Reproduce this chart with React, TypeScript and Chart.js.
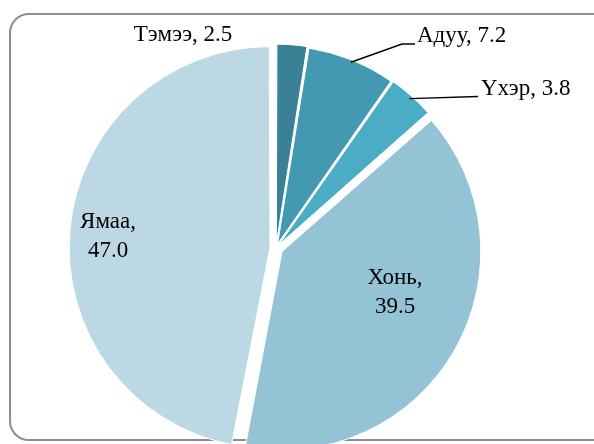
import React, { useEffect, useRef } from "react";
import { Chart, registerables } from "chart.js";

Chart.register(...registerables);

const categories = ["Тэмээ", "Адуу", "Үхэр", "Хонь", "Ямаа"];
const shares = [2.5, 7.2, 3.8, 39.5, 47.0];
const sliceColors = ["#3A8196", "#4399B1", "#4BACC6", "#93C3D5", "#BCD8E4"];
// explosion per slice (Chart.js moves an arc by offset/4 px)
const sliceOffsets = [17, 17, 17, 28, 24];

// label layout: [lines, x, y, align]
const labelLayout: { lines: string[]; x: number; y: number; align: CanvasTextAlign }[] = [
  { lines: [`${categories[0]}, ${shares[0].toFixed(1)}`], x: 183, y: 35, align: "center" },
  { lines: [`${categories[1]}, ${shares[1].toFixed(1)}`], x: 417, y: 36, align: "left" },
  { lines: [`${categories[2]}, ${shares[2].toFixed(1)}`], x: 481, y: 89, align: "left" },
  { lines: [`${categories[3]},`, shares[3].toFixed(1)], x: 395, y: 278, align: "center" },
  { lines: [`${categories[4]},`, shares[4].toFixed(1)], x: 108, y: 222, align: "center" },
];

const labelPlugin = {
  id: "pieLabels",
  afterDatasetsDraw(chart: any) {
    const ctx = chart.ctx as CanvasRenderingContext2D;
    const meta = chart.getDatasetMeta(0);
    ctx.save();
    // leader lines for Адуу and Үхэр
    const leader = (i: number, pts: [number, number][]) => {
      const arc = meta.data[i] as any;
      const mid = (arc.startAngle + arc.endAngle) / 2;
      const t = sliceOffsets[i] / 4;
      const r = arc.outerRadius + t;
      const sx = arc.x + Math.cos(mid) * r;
      const sy = arc.y + Math.sin(mid) * r;
      ctx.beginPath();
      ctx.moveTo(sx, sy);
      pts.forEach(([x, y]) => ctx.lineTo(x, y));
      ctx.strokeStyle = "#000";
      ctx.lineWidth = 1.5;
      ctx.stroke();
    };
    leader(1, [[402, 44], [415, 44]]);
    leader(2, [[478, 96.5]]);

    ctx.fillStyle = "#000";
    ctx.font = '23px "Liberation Serif", "Times New Roman", serif';
    ctx.textBaseline = "middle";
    labelLayout.forEach((l) => {
      ctx.textAlign = l.align;
      l.lines.forEach((s, k) => ctx.fillText(s, l.x, l.y + k * 29));
    });
    ctx.restore();
  },
};

export default function App() {
  const ref = useRef<HTMLCanvasElement>(null);
  useEffect(() => {
    if (!ref.current) return;
    const chart = new Chart(ref.current, {
      type: "pie",
      data: {
        labels: categories,
        datasets: [
          {
            data: shares,
            backgroundColor: sliceColors,
            borderColor: "#ffffff",
            borderWidth: 1,
            offset: sliceOffsets,
            hoverOffset: 0,
            radius: 196,
          } as any,
        ],
      },
      options: {
        animation: false,
        responsive: false,
        maintainAspectRatio: false,
        devicePixelRatio: 1,
        layout: { padding: { left: 72, right: 114, top: 44, bottom: 18 } },
        plugins: { legend: { display: false }, tooltip: { enabled: false } },
        events: [],
      },
      plugins: [labelPlugin],
    });
    return () => chart.destroy();
  }, []);
  return (
    <div
      style={{
        position: "fixed",
        left: 0,
        top: 0,
        width: 594,
        height: 444,
        overflow: "hidden",
        background: "#fff",
      }}
    >
      <div
        style={{
          position: "absolute",
          left: 9,
          top: 13,
          width: 620,
          height: 428,
          border: "2px solid #8e8e8e",
          borderRadius: 20,
          boxSizing: "border-box",
        }}
      />
      <canvas
        ref={ref}
        width={594}
        height={470}
        style={{ position: "absolute", left: 0, top: 0, width: 594, height: 470 }}
      />
    </div>
  );
}
